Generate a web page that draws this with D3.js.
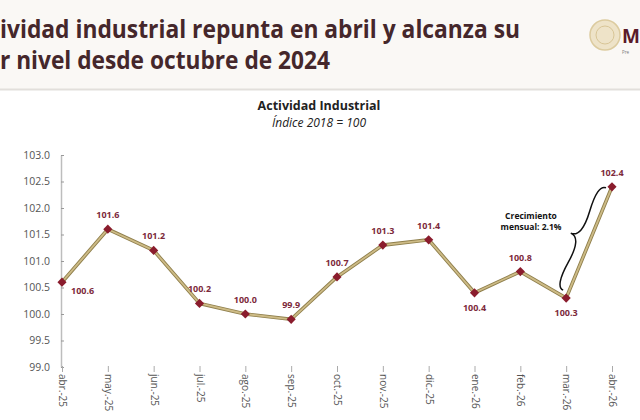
<!DOCTYPE html>
<html>
<head>
<meta charset="utf-8">
<script src="https://cdn.jsdelivr.net/npm/d3@7"></script>
<style>
  body { margin: 0; background: #fff; }
  svg { display: block; font-family: "Open Sans", "Noto Sans", sans-serif; }
</style>
</head>
<body>
<div id="chart"></div>
<script>
var meses = ["abr.-25", "may.-25", "jun.-25", "jul.-25", "ago.-25", "sep.-25",
             "oct.-25", "nov.-25", "dic.-25", "ene.-26", "feb.-26", "mar.-26", "abr.-26"];
var indice = [100.6, 101.6, 101.2, 100.2, 100.0, 99.9, 100.7, 101.3, 101.4, 100.4, 100.8, 100.3, 102.4];
var yTicks = [99.0, 99.5, 100.0, 100.5, 101.0, 101.5, 102.0, 102.5, 103.0];
var tituloLineas = ["ividad industrial repunta en abril y alcanza su", "r nivel desde octubre de 2024"];
var notaLineas = ["Crecimiento", "mensual: 2.1%"];

var W = 640, H = 420;

var svg = d3.select("#chart").append("svg")
    .attr("width", W)
    .attr("height", H);

// encabezado
svg.append("rect")
    .attr("width", W).attr("height", 89)
    .attr("fill", "#faf8f5");
svg.append("line")
    .attr("x1", 0).attr("x2", W).attr("y1", 89.5).attr("y2", 89.5)
    .attr("stroke", "#e2dfdb").attr("stroke-width", 2);

var tLens = [520, 330];
svg.selectAll("text.head")
    .data(tituloLineas)
    .enter().append("text")
    .attr("class", "head")
    .attr("x", 0)
    .attr("y", function(d, i) { return 38 + i * 31; })
    .attr("textLength", function(d, i) { return tLens[i]; })
    .attr("lengthAdjust", "spacingAndGlyphs")
    .attr("font-size", 25)
    .attr("font-weight", "bold")
    .attr("fill", "#45272b")
    .text(function(d) { return d; });

// escudo
svg.append("circle")
    .attr("cx", 605).attr("cy", 35).attr("r", 15)
    .attr("fill", "#eee3c8").attr("stroke", "#dccb9f").attr("stroke-width", 1.5);
svg.append("circle")
    .attr("cx", 605).attr("cy", 35).attr("r", 9)
    .attr("fill", "none").attr("stroke", "#d8c596").attr("stroke-width", 1);
svg.append("text")
    .attr("x", 622).attr("y", 43)
    .attr("font-size", 19).attr("font-weight", "bold")
    .attr("fill", "#5b1b2a")
    .text("M");
svg.append("text")
    .attr("x", 622).attr("y", 54)
    .attr("font-size", 4.5)
    .attr("fill", "#777")
    .text("Pre");

// titulo de la grafica
svg.append("text")
    .attr("x", 319).attr("y", 110)
    .attr("text-anchor", "middle")
    .attr("font-size", 12.5).attr("font-weight", "bold")
    .attr("fill", "#222")
    .text("Actividad Industrial");
svg.append("text")
    .attr("x", 319).attr("y", 127)
    .attr("text-anchor", "middle")
    .attr("font-size", 12).attr("font-style", "italic")
    .attr("fill", "#222")
    .text("Índice 2018 = 100");

var x = d3.scalePoint()
    .domain(meses)
    .range([62, 612]);

var y = d3.scaleLinear()
    .domain([99, 103])
    .range([367, 155]);

// eje y
var yAxis = svg.append("g")
    .attr("transform", "translate(61,0)")
    .call(d3.axisLeft(y)
        .tickValues(yTicks)
        .tickFormat(d3.format(".1f"))
        .tickSizeInner(-3)
        .tickSizeOuter(0)
        .tickPadding(11));
yAxis.select(".domain").attr("stroke", "#bdbdbd").attr("stroke-width", 1.5);
yAxis.selectAll(".tick line").attr("stroke", "#999");
yAxis.selectAll("text")
    .attr("font-size", 10.5)
    .attr("font-family", "'Open Sans', sans-serif")
    .attr("fill", "#555");

// eje x
var xAxis = svg.append("g")
    .attr("transform", "translate(0,366)")
    .call(d3.axisBottom(x).tickSizeInner(6).tickSizeOuter(0).tickPadding(3));
xAxis.select(".domain").remove();
xAxis.selectAll(".tick line").attr("stroke", "#aaa");
xAxis.selectAll("text")
    .attr("font-size", 10)
    .attr("font-family", "'Open Sans', sans-serif")
    .attr("fill", "#555")
    .attr("text-anchor", "start")
    .attr("transform", "rotate(90)")
    .attr("x", 8)
    .attr("y", 0)
    .attr("dy", "0.35em");

// linea
var linea = d3.line()
    .x(function(d, i) { return x(meses[i]); })
    .y(function(d) { return y(d); });

svg.append("path")
    .datum(indice)
    .attr("d", linea)
    .attr("fill", "none")
    .attr("stroke", "#8f7f4c")
    .attr("stroke-width", 3.6)
    .attr("stroke-linejoin", "round");
svg.append("path")
    .datum(indice)
    .attr("d", linea)
    .attr("fill", "none")
    .attr("stroke", "#cdbb86")
    .attr("stroke-width", 1.8)
    .attr("stroke-linejoin", "round");

// marcadores
svg.selectAll("path.mk")
    .data(indice)
    .enter().append("path")
    .attr("class", "mk")
    .attr("d", d3.symbol().type(d3.symbolSquare).size(42))
    .attr("transform", function(d, i) {
        return "translate(" + x(meses[i]) + "," + y(d) + ") rotate(45)";
    })
    .attr("fill", "#8a1c2d");

// etiquetas
var abajo = { 9: true, 11: true };
svg.selectAll("text.lbl")
    .data(indice)
    .enter().append("text")
    .attr("class", "lbl")
    .attr("x", function(d, i) { return i === 0 ? x(meses[i]) + 9 : x(meses[i]); })
    .attr("y", function(d, i) {
        if (i === 0) return y(d) + 12;
        return abajo[i] ? y(d) + 18 : y(d) - 11;
    })
    .attr("text-anchor", function(d, i) { return i === 0 ? "start" : "middle"; })
    .attr("font-size", 9)
    .attr("font-weight", "bold")
    .attr("fill", "#7d2a3b")
    .text(function(d) { return d3.format(".1f")(d); });

// llave de crecimiento mensual
function llave(x1, y1, x2, y2, w, q) {
    var dx = x1 - x2, dy = y1 - y2;
    var len = Math.sqrt(dx * dx + dy * dy);
    dx /= len; dy /= len;
    var qx1 = x1 + q * w * dy, qy1 = y1 - q * w * dx;
    var qx2 = (x1 - .25 * len * dx) + (1 - q) * w * dy, qy2 = (y1 - .25 * len * dy) - (1 - q) * w * dx;
    var tx1 = (x1 - .5 * len * dx) + w * dy, ty1 = (y1 - .5 * len * dy) - w * dx;
    var qx3 = x2 + q * w * dy, qy3 = y2 - q * w * dx;
    var qx4 = (x1 - .75 * len * dx) + (1 - q) * w * dy, qy4 = (y1 - .75 * len * dy) - (1 - q) * w * dx;
    return "M " + x1 + " " + y1 + " Q " + qx1 + " " + qy1 + " " + qx2 + " " + qy2 +
        " T " + tx1 + " " + ty1 + " M " + x2 + " " + y2 + " Q " + qx3 + " " + qy3 +
        " " + qx4 + " " + qy4 + " T " + tx1 + " " + ty1;
}

var n = indice.length;
svg.append("path")
    .attr("d", llave(x(meses[n - 1]) - 6, y(indice[n - 1]) + 1,
                     x(meses[n - 2]) - 3, y(indice[n - 2]) - 8, 15, 0.6))
    .attr("fill", "none")
    .attr("stroke", "#111")
    .attr("stroke-width", 1.5);

svg.selectAll("text.nota")
    .data(notaLineas)
    .enter().append("text")
    .attr("class", "nota")
    .attr("x", 531)
    .attr("y", function(d, i) { return 219 + i * 11; })
    .attr("text-anchor", "middle")
    .attr("font-size", 8.5)
    .attr("font-weight", "bold")
    .attr("fill", "#111")
    .text(function(d) { return d; });
</script>
</body>
</html>
